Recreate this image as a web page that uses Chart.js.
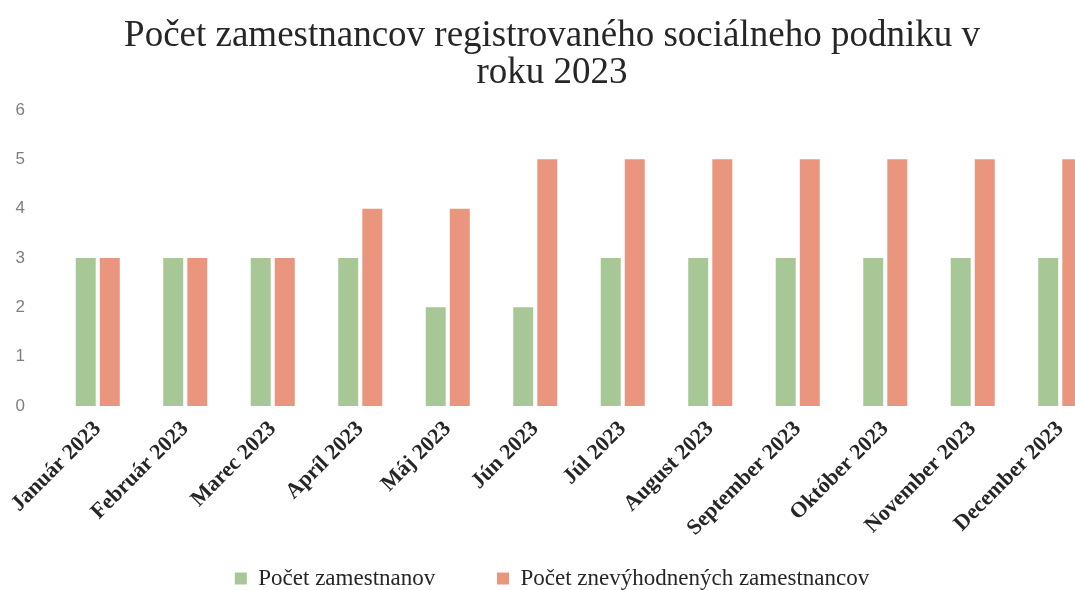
<!DOCTYPE html>
<html>
<head>
<meta charset="utf-8">
<title>Počet zamestnancov 2023</title>
<script src="https://cdn.jsdelivr.net/npm/chart.js@4/dist/chart.umd.min.js"></script>
<style>
  html, body { margin: 0; padding: 0; background: #fff; overflow: hidden; }
  .wrap { width: 1110px; height: 590px; }
</style>
</head>
<body>
<div class="wrap"><canvas id="chart" width="1110" height="590"></canvas></div>
<script>
const months = ['Január 2023', 'Február 2023', 'Marec 2023', 'Apríl 2023', 'Máj 2023', 'Jún 2023',
  'Júl 2023', 'August 2023', 'September 2023', 'Október 2023', 'November 2023', 'December 2023'];
const zamestnanci = [3, 3, 3, 3, 2, 2, 3, 3, 3, 3, 3, 3];
const znevyhodneni = [3, 3, 3, 4, 4, 5, 5, 5, 5, 5, 5, 5];
const yTicks = [0, 1, 2, 3, 4, 5, 6];

const ctx = document.getElementById('chart').getContext('2d');
new Chart(ctx, {
  type: 'bar',
  data: {
    labels: months,
    datasets: [
      { label: 'Počet zamestnanov', data: zamestnanci, backgroundColor: '#a8c797' },
      { label: 'Počet znevýhodnených zamestnancov', data: znevyhodneni, backgroundColor: '#ea967e' }
    ]
  },
  options: {
    responsive: false,
    animation: false,
    categoryPercentage: 0.55,
    barPercentage: 0.83,
    layout: { padding: { left: 0, right: 6, top: 6, bottom: -10 } },
    plugins: {
      title: {
        display: true,
        text: ['Počet zamestnancov registrovaného sociálneho podniku v', 'roku 2023'],
        color: '#262626',
        font: { family: 'Liberation Serif', size: 37, weight: 'normal', lineHeight: 1.0 },
        padding: { top: 12, bottom: 18 }
      },
      legend: {
        position: 'bottom',
        labels: {
          color: '#262626',
          boxWidth: 12,
          boxHeight: 12,
          padding: 10,
          font: { family: 'Liberation Serif', size: 23 },
          // extra gap after the first item instead of a big padding (which also adds height)
          generateLabels: (chart) => {
            const items = Chart.defaults.plugins.legend.labels.generateLabels(chart);
            items[0].text = items[0].text + '         ';
            return items;
          }
        }
      },
      tooltip: { enabled: false }
    },
    scales: {
      x: {
        grid: { display: false },
        border: { display: false },
        afterFit: (scale) => { scale.height = 151; },
        ticks: {
          color: '#262626',
          minRotation: 45,
          maxRotation: 45,
          padding: 2,
          font: { family: 'Liberation Serif', size: 22, weight: 'bold' }
        }
      },
      y: {
        min: 0,
        max: 6,
        grid: { display: false },
        border: { display: false },
        afterFit: (scale) => { scale.width = 54; },
        afterBuildTicks: (scale) => { scale.ticks = yTicks.map(v => ({ value: v })); },
        ticks: {
          color: '#7f7f7f',
          padding: 21,
          font: { family: 'Liberation Sans', size: 17 }
        }
      }
    }
  }
});
</script>
</body>
</html>
